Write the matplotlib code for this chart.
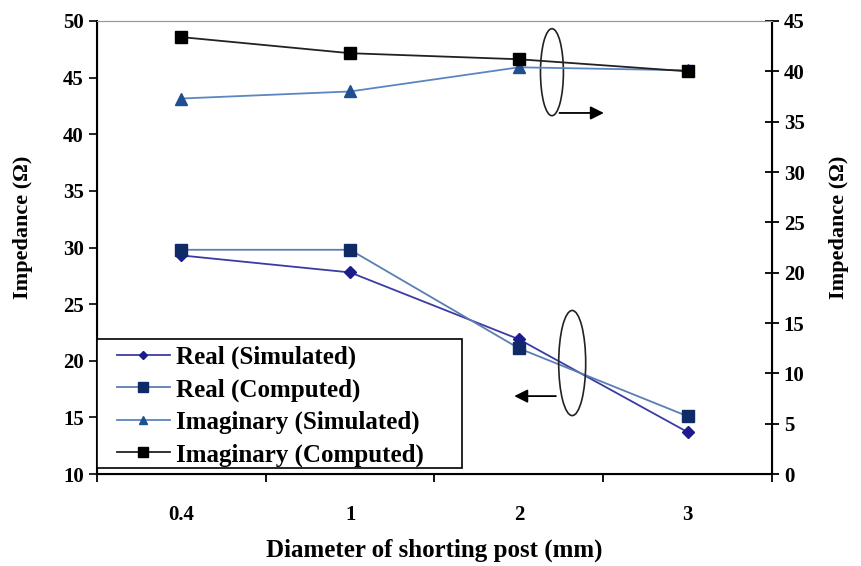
"""Impedance vs shorting post diameter."""

import matplotlib
matplotlib.use("Agg")
import matplotlib.pyplot as plt
from matplotlib.patches import Ellipse, Rectangle
from matplotlib.ticker import FixedLocator, NullFormatter

plt.rcParams["font.family"] = ["Liberation Serif", "DejaVu Serif"]

diameters = ["0.4", "1", "2", "3"]
real_sim = [29.3, 27.8, 21.9, 13.7]
real_comp = [29.8, 29.8, 21.1, 15.1]
imag_sim = [37.3, 38.0, 40.4, 40.1]
imag_comp = [43.4, 41.8, 41.2, 40.0]

x = list(range(len(diameters)))

fig = plt.figure(figsize=(8.62, 5.66), dpi=100)
ax = fig.add_axes([0.1125, 0.1625, 0.7831, 0.8004])
ax2 = ax.twinx()

l1, = ax.plot(x, real_sim, color="#3b3ba6", lw=1.3, marker="D", ms=6,
              mfc="#1c1c8a", mec="#1c1c8a", label="Real (Simulated)")
l2, = ax.plot(x, real_comp, color="#5a7fb0", lw=1.3, marker="s", ms=9,
              mfc="#0f2a66", mec="#0f2a66", label="Real (Computed)")
l3, = ax2.plot(x, imag_sim, color="#5b86c0", lw=1.3, marker="^", ms=8,
               mfc="#1f4f8f", mec="#1f4f8f", label="Imaginary (Simulated)")
l4, = ax2.plot(x, imag_comp, color="#222222", lw=1.3, marker="s", ms=9,
               mfc="black", mec="black", label="Imaginary (Computed)")

ax.set_xlim(-0.5, len(x) - 0.5)
ax.set_ylim(10, 50)
ax2.set_ylim(0, 45)
ax.set_yticks(range(10, 51, 5))
ax2.set_yticks(range(0, 46, 5))

ax.set_xticks(x)
ax.set_xticklabels(diameters)
ax.xaxis.set_minor_locator(FixedLocator([i - 0.5 for i in range(len(x) + 1)]))
ax.xaxis.set_minor_formatter(NullFormatter())
ax.tick_params(axis="x", which="major", length=0, pad=22)
ax.tick_params(axis="x", which="minor", length=6, width=1.3, direction="out")
ax.tick_params(axis="y", length=6, width=1.2, direction="out")
ax2.tick_params(axis="y", length=10, width=1.3, direction="inout")

for a in (ax, ax2):
    for lab in a.get_xticklabels() + a.get_yticklabels():
        lab.set_fontsize(15)
        lab.set_fontweight("bold")

for side in ("left", "right", "bottom"):
    ax2.spines[side].set_linewidth(1.5)
    ax2.spines[side].set_color("black")
ax2.spines["top"].set_color("#999999")
ax.spines["top"].set_color("#999999")

ax.set_ylabel("Impedance (\u03a9)", fontsize=16, fontweight="bold")
ax2.set_ylabel("Impedance (\u03a9)", fontsize=16, fontweight="bold")
ax.yaxis.set_label_coords(-0.095, 0.545)
ax2.yaxis.set_label_coords(1.084, 0.545)
ax.set_xlabel("Diameter of shorting post (mm)", fontsize=18, fontweight="bold",
              labelpad=10)

# ellipse + arrow markers pointing to the matching axis
ax2.add_patch(Ellipse((0.674, 0.887), 0.034, 0.192, transform=ax2.transAxes,
                      fill=False, ec="#222222", lw=1.2))
ax2.annotate("", xy=(0.755, 0.797), xytext=(0.681, 0.797),
             xycoords="axes fraction",
             arrowprops=dict(arrowstyle="-|>", color="black", lw=1.3,
                             mutation_scale=20))
ax2.add_patch(Ellipse((0.704, 0.245), 0.040, 0.232, transform=ax2.transAxes,
                      fill=False, ec="#222222", lw=1.2))
ax2.annotate("", xy=(0.614, 0.172), xytext=(0.684, 0.172),
             xycoords="axes fraction",
             arrowprops=dict(arrowstyle="-|>", color="black", lw=1.3,
                             mutation_scale=20))

# legend box drawn by hand (wider padding on the right, like the original)
ax2.add_patch(Rectangle((0.0, 0.013), 0.541, 0.285, transform=ax2.transAxes,
                        fc="white", ec="black", lw=1.2, zorder=5))
leg = ax2.legend(handles=[l1, l2, l3, l4], loc="upper left",
                 bbox_to_anchor=(0.030, 0.283), frameon=False,
                 prop={"size": 18, "weight": "bold"}, markerscale=0.75,
                 borderpad=0, labelspacing=0.36, handlelength=2.1,
                 handletextpad=0.25, borderaxespad=0)
leg.set_zorder(6)

plt.savefig("out.png", dpi=100)
